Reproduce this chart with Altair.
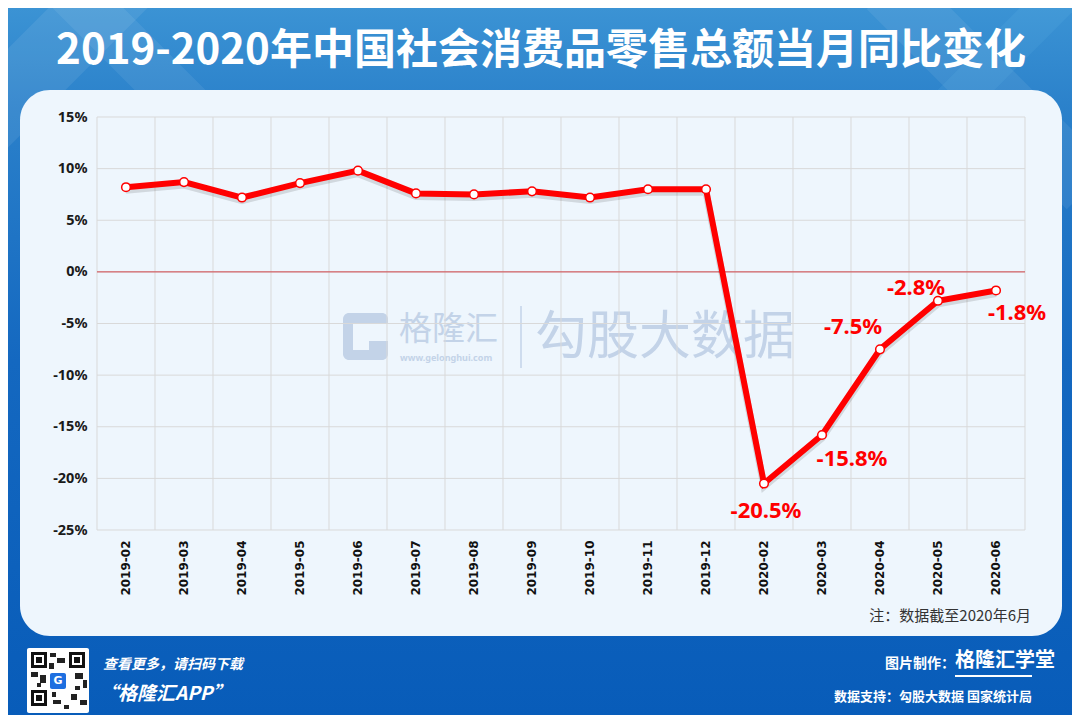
import altair as alt
import pandas as pd

months = ["2019-02", "2019-03", "2019-04", "2019-05", "2019-06", "2019-07",
          "2019-08", "2019-09", "2019-10", "2019-11", "2019-12", "2020-02",
          "2020-03", "2020-04", "2020-05", "2020-06"]
values = [8.2, 8.7, 7.2, 8.6, 9.8, 7.6, 7.5, 7.8, 7.2, 8.0, 8.0,
          -20.5, -15.8, -7.5, -2.8, -1.8]
y_ticks = [-25, -20, -15, -10, -5, 0, 5, 10, 15]
labelled = ["2020-02", "2020-03", "2020-04", "2020-05", "2020-06"]

title_text = "2019-2020年中国社会消费品零售总额当月同比变化"
note_text = "注：数据截至2020年6月"

df = pd.DataFrame({"month": months, "value": values})
df["label"] = [f"{v:.1f}%" for v in values]
ticks_df = pd.DataFrame({"value": y_ticks})
one = pd.DataFrame({"a": [0]})

W, H = 928, 413
PL, PT = 89, 109
CJK = "Noto Sans CJK SC"

xsc = alt.Scale(domain=months, paddingInner=0, paddingOuter=0)
ysc = alt.Scale(domain=[-25, 15], nice=False, zero=False)

xaxis = alt.Axis(labelAngle=-90, labelAlign="right", labelBaseline="middle",
                 labelPadding=10, domain=False, ticks=False, grid=False,
                 labelFont="DejaVu Sans", labelFontSize=12, labelFontWeight="bold",
                 labelColor="#111111", zindex=1)
yaxis = alt.Axis(values=y_ticks, labelExpr="datum.value + '%'", domain=False, ticks=False,
                 grid=False, labelPadding=10, labelFont="Noto Sans", labelFontSize=14.5,
                 labelFontWeight="bold", labelColor="#1A1A1A", zindex=1)


def X(**kw):
    return alt.X("month:N", scale=xsc, sort=months, title=None, axis=xaxis, **kw)


def Y():
    return alt.Y("value:Q", scale=ysc, title=None, axis=yaxis)


base1 = alt.Chart(one)

bg = base1.mark_rect(
    color=alt.Gradient(gradient="linear", x1=0, y1=0, x2=0, y2=1,
                       stops=[alt.GradientStop(color="#3B93D4", offset=0),
                              alt.GradientStop(color="#2A80CA", offset=0.15),
                              alt.GradientStop(color="#1468C0", offset=0.5),
                              alt.GradientStop(color="#085CB9", offset=1)])
).encode(x=alt.value(-PL), x2=alt.value(-PL + 1064), y=alt.value(-PT), y2=alt.value(-PT + 707))

stripes = alt.layer(
    base1.mark_rule(color="#FFFFFF", opacity=0.08, strokeWidth=70).encode(
        x=alt.value(-PL - 40), y=alt.value(-PT + 130), x2=alt.value(-PL + 150), y2=alt.value(-PT - 60)),
    base1.mark_rule(color="#FFFFFF", opacity=0.07, strokeWidth=50).encode(
        x=alt.value(-PL + 60), y=alt.value(-PT - 20), x2=alt.value(-PL + 220), y2=alt.value(-PT + 140)),
    base1.mark_rule(color="#FFFFFF", opacity=0.07, strokeWidth=60).encode(
        x=alt.value(-PL + 880), y=alt.value(-PT - 20), x2=alt.value(-PL + 1080), y2=alt.value(-PT + 180)),
    base1.mark_rule(color="#7FD0F5", opacity=0.10, strokeWidth=40).encode(
        x=alt.value(-PL + 940), y=alt.value(-PT + 100), x2=alt.value(-PL + 1080), y2=alt.value(-PT - 40)),
)

panel = base1.mark_rect(color="#EEF6FD", cornerRadius=30).encode(
    x=alt.value(-77), x2=alt.value(965), y=alt.value(-27), y2=alt.value(519))

wm_color = "#C3D3E8"
watermark = alt.layer(
    base1.mark_rect(color=wm_color, cornerRadius=6).encode(
        x=alt.value(246), x2=alt.value(291), y=alt.value(196), y2=alt.value(243)),
    base1.mark_rect(color="#EEF6FD").encode(
        x=alt.value(256), x2=alt.value(291), y=alt.value(206), y2=alt.value(224)),
    base1.mark_rect(color="#EEF6FD").encode(
        x=alt.value(256), x2=alt.value(272), y=alt.value(206), y2=alt.value(233)),
    base1.mark_text(text="格隆汇", font=CJK, fontSize=33, color=wm_color, align="left", baseline="middle").encode(
        x=alt.value(302), y=alt.value(213)),
    base1.mark_text(text="www.gelonghui.com", font="Noto Sans", fontSize=9, fontWeight="bold",
                    color=wm_color, align="left", baseline="middle").encode(
        x=alt.value(303), y=alt.value(241)),
    base1.mark_rule(color=wm_color, strokeWidth=1.5).encode(
        x=alt.value(424), y=alt.value(189), y2=alt.value(251)),
    base1.mark_text(text="勾股大数据", font=CJK, fontSize=52, color=wm_color, align="left", baseline="middle").encode(
        x=alt.value(438), y=alt.value(221)),
)

grid_color = "#D9D9D9"
vgrid = alt.Chart(df).mark_rule(color=grid_color, strokeWidth=1).encode(x=X(bandPosition=0))
vgrid_end = base1.mark_rule(color=grid_color, strokeWidth=1).encode(
    x=alt.value(W), y=alt.value(0), y2=alt.value(H))
hgrid = alt.Chart(ticks_df).mark_rule(color=grid_color, strokeWidth=1).encode(y=Y())
zero = base1.mark_rule(color="#D0454A", strokeWidth=1).encode(
    x=alt.value(0), x2=alt.value(W), y=alt.value(H * 15 / 40))

shadow = alt.Chart(df).mark_line(color="#000000", opacity=0.12, strokeWidth=7, yOffset=3).encode(x=X(), y=Y())
line = alt.Chart(df).mark_line(color="#FF0000", strokeWidth=6).encode(x=X(), y=Y())
pts = alt.Chart(df).mark_point(filled=True, fill="#FFFFFF", stroke="#FF0000", strokeWidth=1.5,
                               size=75, opacity=1).encode(x=X(), y=Y())

offsets = {"2020-02": (2, 27), "2020-03": (30, 24), "2020-04": (-27, -22),
           "2020-05": (-22, -13), "2020-06": (21, 23)}
label_layers = []
for m in labelled:
    dx, dy = offsets[m]
    label_layers.append(
        alt.Chart(df).transform_filter(alt.datum.month == m).mark_text(
            font="Noto Sans", fontSize=22, fontWeight="bold", color="#FF0000", dx=dx, dy=dy,
            baseline="middle", align="center").encode(x=X(), y=Y(), text="label:N"))

# QR-code-like placeholder
qr = [
    base1.mark_rect(color="#FFFFFF", cornerRadius=2).encode(
        x=alt.value(-70), x2=alt.value(-8), y=alt.value(531), y2=alt.value(596)),
]
for (qx, qy) in [(-66, 535), (-28, 535), (-66, 573)]:
    qr.append(base1.mark_rect(color="#111111").encode(
        x=alt.value(qx), x2=alt.value(qx + 16), y=alt.value(qy), y2=alt.value(qy + 16)))
    qr.append(base1.mark_rect(color="#FFFFFF").encode(
        x=alt.value(qx + 3), x2=alt.value(qx + 13), y=alt.value(qy + 3), y2=alt.value(qy + 13)))
    qr.append(base1.mark_rect(color="#111111").encode(
        x=alt.value(qx + 5), x2=alt.value(qx + 11), y=alt.value(qy + 5), y2=alt.value(qy + 11)))
for (qx, qy, qw, qh) in [(-47, 536, 6, 4), (-40, 541, 8, 5), (-48, 546, 5, 6), (-66, 555, 7, 5),
                         (-57, 558, 6, 8), (-22, 556, 8, 6), (-14, 563, 4, 8), (-26, 577, 6, 6),
                         (-17, 583, 7, 5), (-44, 583, 8, 4), (-33, 588, 5, 4), (-60, 566, 4, 4),
                         (-22, 569, 5, 4), (-45, 575, 4, 5)]:
    qr.append(base1.mark_rect(color="#222222").encode(
        x=alt.value(qx), x2=alt.value(qx + qw), y=alt.value(qy), y2=alt.value(qy + qh)))
qr.append(base1.mark_rect(color="#1E6FE0", cornerRadius=2).encode(
    x=alt.value(-47), x2=alt.value(-31), y=alt.value(556), y2=alt.value(572)))
qr.append(base1.mark_text(text="G", font="DejaVu Sans", fontSize=11, fontWeight="bold", color="#FFFFFF",
                          align="center", baseline="middle").encode(x=alt.value(-39), y=alt.value(564)))

texts = alt.layer(
    base1.mark_text(text=title_text, font=CJK, fontSize=42, fontWeight="bold", color="#FFFFFF",
                    align="center", baseline="middle").encode(x=alt.value(444), y=alt.value(-66)),
    base1.mark_text(text=note_text, font=CJK, fontSize=15, color="#333333",
                    align="right", baseline="middle").encode(x=alt.value(934), y=alt.value(499)),
    *qr,
    base1.mark_text(text="查看更多，请扫码下载", font=CJK, fontSize=14, fontStyle="italic", fontWeight="bold",
                    color="#FFFFFF", align="left", baseline="middle").encode(x=alt.value(6), y=alt.value(548)),
    base1.mark_text(text="“格隆汇APP”", font=CJK, fontSize=19, fontStyle="italic", fontWeight="bold",
                    color="#FFFFFF", align="left", baseline="middle").encode(x=alt.value(2), y=alt.value(577)),
    base1.mark_text(text="图片制作：", font=CJK, fontSize=14, fontWeight="bold", color="#FFFFFF",
                    align="right", baseline="middle").encode(x=alt.value(858), y=alt.value(547)),
    base1.mark_text(text="格隆汇学堂", font=CJK, fontSize=20, fontWeight="bold", color="#FFFFFF",
                    align="left", baseline="middle").encode(x=alt.value(858), y=alt.value(544)),
    base1.mark_rule(color="#FFFFFF", strokeWidth=2).encode(
        x=alt.value(858), x2=alt.value(935), y=alt.value(559)),
    base1.mark_text(text="数据支持：勾股大数据  国家统计局", font=CJK, fontSize=13, fontWeight="bold",
                    color="#FFFFFF", align="right", baseline="middle").encode(x=alt.value(935), y=alt.value(580)),
)

chart = alt.layer(
    bg, stripes, panel, watermark, vgrid, vgrid_end, hgrid, zero, shadow, line, pts,
    *label_layers, texts
).properties(
    width=W, height=H,
    padding={"left": PL, "top": PT, "right": 1064 - PL - W, "bottom": 707 - PT - H},
    autosize=alt.AutoSizeParams(type="none"),
).configure(background="#085CB9").configure_view(stroke=None)

chart.save("out.html", embed_options={"renderer": "svg", "actions": False})
